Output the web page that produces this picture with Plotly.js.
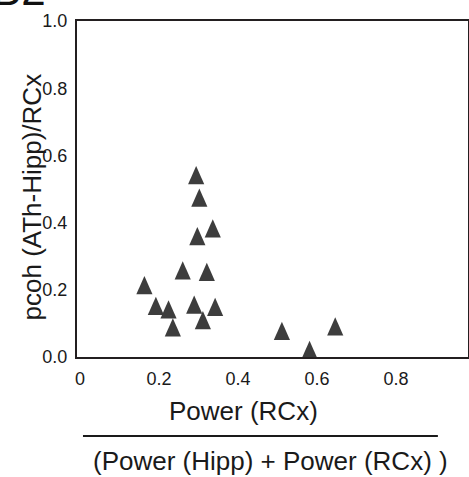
<!DOCTYPE html>
<html>
<head>
<meta charset="utf-8">
<script src="https://cdn.plot.ly/plotly-3.0.1.min.js"></script>
<style>
  html, body { margin: 0; padding: 0; background: #fff; }
  #chart { width: 469px; height: 477px; }
</style>
</head>
<body>
<div id="chart"></div>
<script>
// Data
const powerRatio = [0.294, 0.302, 0.336, 0.297, 0.260, 0.321, 0.163, 0.192, 0.224, 0.289, 0.342, 0.311, 0.235, 0.511, 0.581, 0.646];
const pcohRatio  = [0.532, 0.465, 0.374, 0.351, 0.249, 0.244, 0.205, 0.143, 0.133, 0.147, 0.140, 0.101, 0.079, 0.069, 0.012, 0.082];

const xTickVals = [0, 0.2, 0.4, 0.6, 0.8];
const xTickText = ['0', '0.2', '0.4', '0.6', '0.8'];
const yTickVals = [0, 0.2, 0.4, 0.6, 0.8, 1.0];
const yTickText = ['0.0', '0.2', '0.4', '0.6', '0.8', '1.0'];

const yTitle = 'pcoh (ATh-Hipp)/RCx';
const xTitleNum = 'Power (RCx)';
const xTitleDen = '(Power (Hipp) + Power (RCx) )';
const panelLabel = 'B2';

const FONT = 'Liberation Sans, Arial, Helvetica, sans-serif';
const INK = '#1a1a1a';

const trace = {
  type: 'scatter',
  mode: 'markers',
  x: powerRatio,
  y: pcohRatio,
  cliponaxis: false,
  marker: { symbol: 'triangle-up', size: 14, color: '#3d3d3d', line: { width: 0 } },
  hoverinfo: 'x+y'
};

const layout = {
  width: 469,
  height: 477,
  margin: { l: 77, r: 1, t: 21, b: 120, pad: 0 },
  paper_bgcolor: '#ffffff',
  plot_bgcolor: '#ffffff',
  showlegend: false,
  font: { family: FONT, color: INK, size: 18 },
  xaxis: {
    range: [-0.0076, 0.982],
    tickvals: xTickVals,
    ticktext: xTickText,
    ticks: '',
    showgrid: false,
    zeroline: false,
    showline: true,
    linecolor: '#231f20',
    linewidth: 2,
    mirror: true,
    ticklabelstandoff: 4,
    tickfont: { family: FONT, size: 18, color: INK }
  },
  yaxis: {
    range: [0, 1.0],
    tickvals: yTickVals,
    ticktext: yTickText,
    ticks: '',
    showgrid: false,
    zeroline: false,
    showline: true,
    linecolor: '#231f20',
    linewidth: 2,
    mirror: true,
    ticklabelstandoff: 4,
    tickfont: { family: FONT, size: 18, color: INK }
  },
  annotations: [
    {
      text: yTitle, xref: 'paper', yref: 'paper',
      x: -0.115, y: 0.475, xanchor: 'center', yanchor: 'middle',
      textangle: -90, showarrow: false,
      font: { family: FONT, size: 26, color: INK }
    },
    {
      text: xTitleNum, xref: 'paper', yref: 'paper',
      x: 0.427, y: -0.161, xanchor: 'center', yanchor: 'middle',
      showarrow: false,
      font: { family: FONT, size: 26, color: INK }
    },
    {
      text: xTitleDen, xref: 'paper', yref: 'paper',
      x: 0.495, y: -0.3095, xanchor: 'center', yanchor: 'middle',
      showarrow: false,
      font: { family: FONT, size: 26, color: INK }
    },
    {
      text: panelLabel, xref: 'paper', yref: 'paper',
      x: -0.222, y: 1, xanchor: 'left', yanchor: 'bottom',
      yshift: 5, showarrow: false,
      font: { family: FONT, size: 44, color: '#111' }
    }
  ],
  shapes: [
    {
      type: 'line', xref: 'paper', yref: 'paper',
      x0: 0.0153, x1: 0.923, y0: -0.235, y1: -0.235,
      line: { color: INK, width: 2 }
    }
  ]
};

const gd = document.getElementById('chart');
Plotly.newPlot(gd, [trace], layout, { staticPlot: true, displayModeBar: false }).then(function () {
  stretchTriangles();
  gd.on('plotly_afterplot', stretchTriangles);
});

// Reference triangles are taller than Plotly's; stretch each marker vertically about its own anchor
function stretchTriangles() {
  gd.querySelectorAll('.scatterlayer .point').forEach(function (p) {
    const t = p.getAttribute('transform') || '';
    if (t.indexOf('scale') === -1) {
      p.setAttribute('transform', t + ' scale(1,1.74)');
    }
  });
}
</script>
</body>
</html>
